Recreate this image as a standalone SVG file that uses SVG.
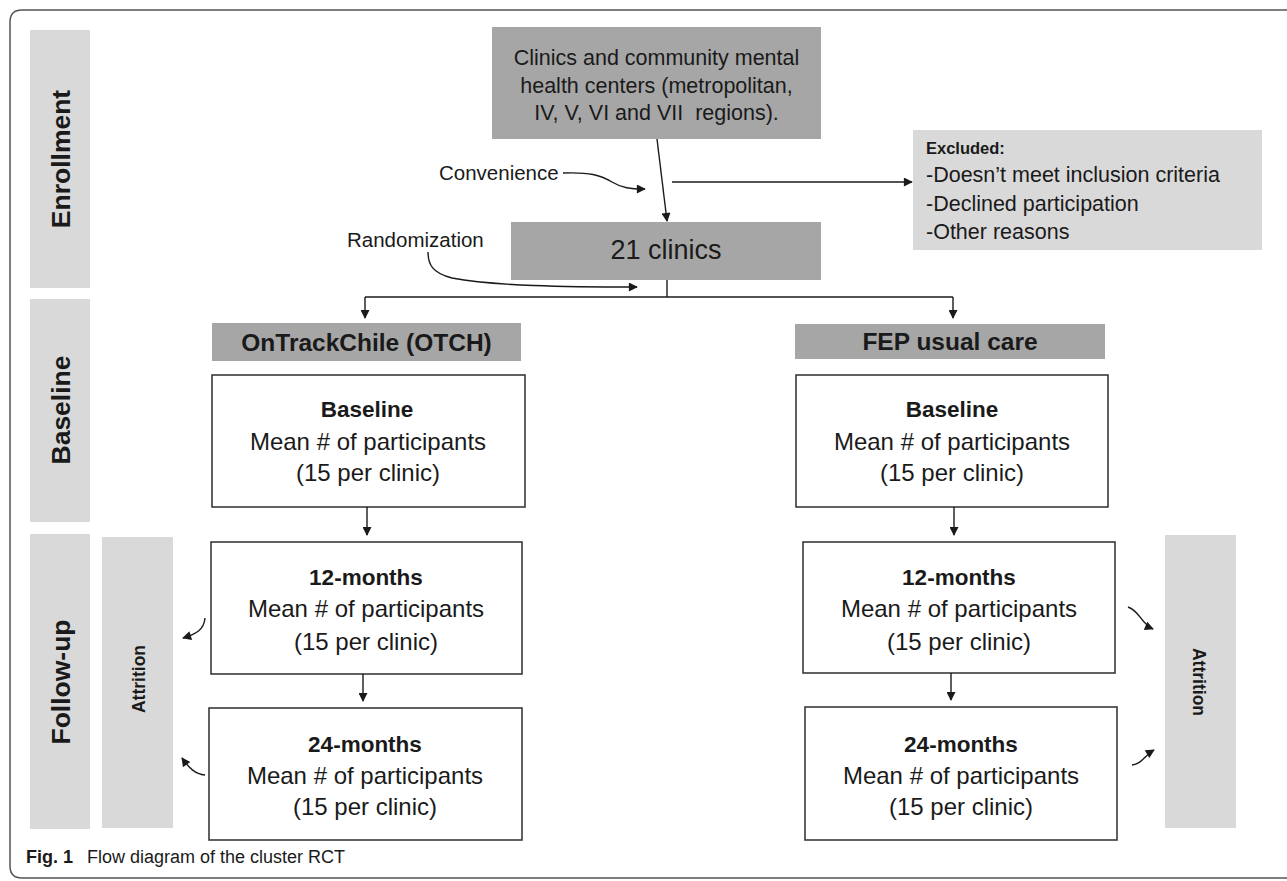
<svg xmlns="http://www.w3.org/2000/svg" width="1287" height="881" viewBox="0 0 1287 881">
<defs>
<style>
.t{font-family:"Liberation Sans",Arial,sans-serif;fill:#1a1a1a}
.c{text-anchor:middle}
.b{font-weight:bold}
.mid{fill:#a6a6a6}
.lt{fill:#d9d9d9}
.box{fill:#ffffff;stroke:#3a3a3a;stroke-width:1.6}
.ln{fill:none;stroke:#1a1a1a;stroke-width:1.4}
.body{font-size:24px}
.head{font-size:22.5px;font-weight:bold}
.lab{font-size:26.5px;font-weight:bold}
</style>
<marker id="ah" viewBox="0 0 10 10" refX="9" refY="5" markerWidth="10" markerHeight="9" markerUnits="userSpaceOnUse" orient="auto">
<path d="M0,0 L10,5 L0,10 Z" fill="#1a1a1a"/>
</marker>
</defs>
<rect x="0" y="0" width="1287" height="881" fill="#ffffff"/>
<path d="M1287,10 H22 Q10,10 10,22 V866 Q10,878 22,878 H1287" fill="none" stroke="#555555" stroke-width="1.5"/>

<g id="stage-enrollment">
<rect class="lt" x="30" y="30" width="60" height="258"/>
<text class="t lab c" transform="translate(60,159) rotate(-90)" dy="9.5">Enrollment</text>
</g>
<g id="stage-baseline">
<rect class="lt" x="30" y="299" width="60" height="223"/>
<text class="t lab c" transform="translate(60,410) rotate(-90)" dy="9.5">Baseline</text>
</g>
<g id="stage-followup">
<rect class="lt" x="30" y="534" width="60" height="295"/>
<text class="t lab c" transform="translate(60,682) rotate(-90)" dy="9.5">Follow-up</text>
</g>

<g id="attrition-left">
<rect class="lt" x="102" y="537" width="71" height="291"/>
<text class="t b c" font-size="17.5" transform="translate(138,679) rotate(-90)" dy="6.5">Attrition</text>
</g>
<g id="attrition-right">
<rect class="lt" x="1165" y="535" width="71" height="293"/>
<text class="t b c" font-size="17.5" transform="translate(1199,682) rotate(90)" dy="6.5">Attrition</text>
</g>

<g id="clinics-source">
<rect class="mid" x="492" y="27" width="329" height="112"/>
<text class="t c" font-size="21.5" x="656.5" y="65">Clinics and community mental</text>
<text class="t c" font-size="21.5" x="656.5" y="93">health centers (metropolitan,</text>
<text class="t c" font-size="21.5" x="656.5" y="120">IV, V, VI and VII&#160; regions).</text>
</g>

<g id="excluded">
<rect class="lt" x="913" y="130" width="349" height="120"/>
<text class="t b" font-size="16.5" x="926" y="154">Excluded:</text>
<text class="t" font-size="21.5" x="926" y="182">-Doesn’t meet inclusion criteria</text>
<text class="t" font-size="21.5" x="926" y="211">-Declined participation</text>
<text class="t" font-size="21.5" x="926" y="239">-Other reasons</text>
</g>

<g id="convenience-label">
<text class="t" font-size="20.5" x="439" y="180">Convenience</text>
</g>
<g id="randomization-label">
<text class="t" font-size="20.5" x="347" y="247">Randomization</text>
</g>

<g id="clinics-21">
<rect class="mid" x="511" y="222" width="310" height="58"/>
<text class="t c" font-size="27" x="666" y="259">21 clinics</text>
</g>

<g id="otch">
<rect class="mid" x="212" y="323" width="309" height="38"/>
<text class="t b c" font-size="24.5" x="366.5" y="351">OnTrackChile (OTCH)</text>
</g>
<g id="fep">
<rect class="mid" x="795" y="324" width="310" height="35"/>
<text class="t b c" font-size="24.5" x="950" y="350">FEP usual care</text>
</g>

<g id="otch-baseline">
<rect class="box" x="212" y="375" width="313" height="132"/>
<text class="t head c" x="367" y="417">Baseline</text>
<text class="t body c" x="368" y="450">Mean # of participants</text>
<text class="t body c" x="368" y="481">(15 per clinic)</text>
</g>
<g id="otch-12">
<rect class="box" x="211" y="542" width="311" height="132"/>
<text class="t head c" x="366" y="585">12-months</text>
<text class="t body c" x="366" y="617">Mean # of participants</text>
<text class="t body c" x="366" y="650">(15 per clinic)</text>
</g>
<g id="otch-24">
<rect class="box" x="209" y="708" width="313" height="132"/>
<text class="t head c" x="365" y="752">24-months</text>
<text class="t body c" x="365" y="784">Mean # of participants</text>
<text class="t body c" x="365" y="815">(15 per clinic)</text>
</g>

<g id="fep-baseline">
<rect class="box" x="796" y="375" width="312" height="132"/>
<text class="t head c" x="952" y="417">Baseline</text>
<text class="t body c" x="952" y="450">Mean # of participants</text>
<text class="t body c" x="952" y="481">(15 per clinic)</text>
</g>
<g id="fep-12">
<rect class="box" x="803" y="542" width="312" height="131"/>
<text class="t head c" x="959" y="585">12-months</text>
<text class="t body c" x="959" y="617">Mean # of participants</text>
<text class="t body c" x="959" y="650">(15 per clinic)</text>
</g>
<g id="fep-24">
<rect class="box" x="805" y="707" width="312" height="133"/>
<text class="t head c" x="961" y="752">24-months</text>
<text class="t body c" x="961" y="784">Mean # of participants</text>
<text class="t body c" x="961" y="815">(15 per clinic)</text>
</g>

<g id="connectors">
<path class="ln" d="M657,139 L667,221" marker-end="url(#ah)"/>
<path class="ln" d="M672,182 L912,182" marker-end="url(#ah)"/>
<path class="ln" d="M563,173 C590,172 600,175 612,182 C622,188 630,189 645,189" marker-end="url(#ah)"/>
<path class="ln" d="M428,252 C428,264 432,273 452,278 C495,286 565,287 637,287" marker-end="url(#ah)"/>
<path class="ln" d="M667,280 L667,297"/>
<path class="ln" d="M365,297 L953,297"/>
<path class="ln" d="M365,297 L365,318" marker-end="url(#ah)"/>
<path class="ln" d="M953,297 L953,318" marker-end="url(#ah)"/>
<path class="ln" d="M367,507 L367,535" marker-end="url(#ah)"/>
<path class="ln" d="M363,674 L363,701" marker-end="url(#ah)"/>
<path class="ln" d="M954,507 L954,535" marker-end="url(#ah)"/>
<path class="ln" d="M951,673 L951,700" marker-end="url(#ah)"/>
<path class="ln" d="M205,618 C204,630 196,634 183,638" marker-end="url(#ah)"/>
<path class="ln" d="M205,775 C195,774 189,768 182,758" marker-end="url(#ah)"/>
<path class="ln" d="M1128,607 C1140,611 1141,624 1153,629" marker-end="url(#ah)"/>
<path class="ln" d="M1132,765 C1142,764 1144,756 1154,750" marker-end="url(#ah)"/>
</g>

<g id="caption">
<text class="t" font-size="18" x="26" y="863" fill="#231f20"><tspan font-weight="bold">Fig. 1</tspan><tspan x="87">Flow diagram of the cluster RCT</tspan></text>
</g>
</svg>
